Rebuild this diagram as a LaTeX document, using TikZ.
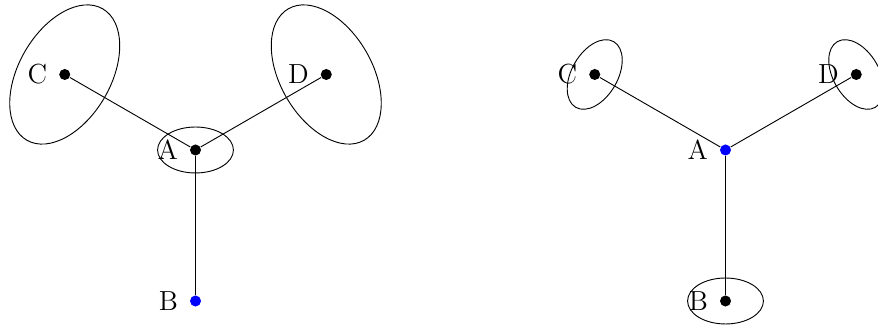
\documentclass[tikz,border=0pt]{standalone}
\usetikzlibrary{calc}
\begin{document}
\begin{tikzpicture}[x=0.435pt,y=0.435pt,
  dot/.style={circle,fill=black,inner sep=0pt,minimum size=4.8pt},
  bluedot/.style={dot,fill=blue},
  lab/.style={label distance=1.5pt,font=\fontsize{12}{14}\selectfont},
  bigell/.style={x radius=33pt,y radius=20pt},
  smallell/.style={x radius=16.5pt,y radius=10pt}]
\useasboundingbox (0,0) rectangle (878,327);
\clip (0,0) rectangle (878,327);
% left figure
\node[dot,label={[lab]left:A}] (A1) at (195.5,177) {};
\node[bluedot,label={[lab]left:B}] (B1) at ($(A1)+(270:151)$) {};
\node[dot,label={[lab]left:C}] (C1) at ($(A1)+(150:151)$) {};
\node[dot,label={[lab]left:D}] (D1) at ($(A1)+(30:151)$) {};
\draw (A1) -- (B1);
\draw (A1) -- (C1);
\draw (A1) -- (D1);
\draw (A1.center) ellipse [smallell];
\draw[rotate around={60:(C1.center)}] (C1.center) ellipse [bigell];
\draw[rotate around={-60:(D1.center)}] (D1.center) ellipse [bigell];
% right figure
\node[bluedot,label={[lab]left:A}] (A2) at (725.5,177) {};
\node[dot,label={[lab]left:B}] (B2) at ($(A2)+(270:151)$) {};
\node[dot,label={[lab]left:C}] (C2) at ($(A2)+(150:151)$) {};
\node[dot,label={[lab]left:D}] (D2) at ($(A2)+(30:151)$) {};
\draw (A2) -- (B2);
\draw (A2) -- (C2);
\draw (A2) -- (D2);
\draw (B2.center) ellipse [smallell];
\draw[rotate around={60:(C2.center)}] (C2.center) ellipse [smallell];
\draw[rotate around={-60:(D2.center)}] (D2.center) ellipse [smallell];
\end{tikzpicture}
\end{document}
